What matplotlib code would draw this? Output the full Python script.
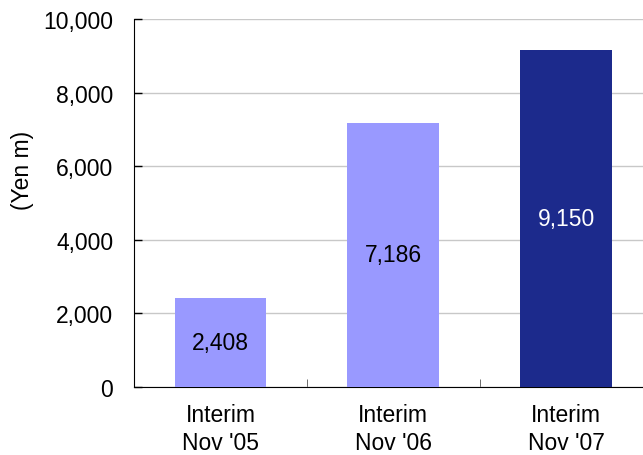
import matplotlib
matplotlib.use("Agg")
import matplotlib.pyplot as plt
from matplotlib.ticker import FuncFormatter, FixedLocator

categories = ["Interim\nNov '05", "Interim\nNov '06", "Interim\nNov '07"]
values = [2408, 7186, 9150]
bar_colors = ["#9999FF", "#9999FF", "#1C2A8C"]
label_colors = ["black", "black", "white"]

plt.rcParams['font.family'] = ['Liberation Sans', 'DejaVu Sans']
FS = 16.5

fig = plt.figure(figsize=(6.43, 4.56), dpi=100)
ax = fig.add_axes([134/643, 1-388/456, 518.5/643, 368/456])

x = list(range(len(values)))
bars = ax.bar(x, values, width=0.53, color=bar_colors, zorder=3)
for xi, v, c in zip(x, values, label_colors):
    ax.text(xi, v/2, f"{v:,}", ha='center', va='center', fontsize=FS, color=c, zorder=4)

ax.set_xlim(-0.5, 2.5)
ax.set_ylim(0, 10000)
ax.set_yticks(range(0, 10001, 2000))
ax.yaxis.set_major_formatter(FuncFormatter(lambda v, p: f"{int(v):,}"))
ax.yaxis.grid(True, color='#C8C8C8', linewidth=1, zorder=0)
ax.tick_params(axis='y', direction='in', length=6, labelsize=FS, pad=15, width=1)

ax.set_xticks(x)
ax.set_xticklabels(categories, fontsize=FS, linespacing=1.28)
ax.tick_params(axis='x', which='major', length=0, pad=11.5)
ax.xaxis.set_minor_locator(FixedLocator([0.5, 1.5]))
ax.tick_params(axis='x', which='minor', direction='in', length=6, color='#555555')

for s in ['top', 'right']:
    ax.spines[s].set_visible(False)
ax.spines['left'].set_color('black')
ax.spines['bottom'].set_color('black')

fig.text(22/643, 1-170/456, "(Yen m)", rotation=90, ha='center', va='center', fontsize=FS)

fig.savefig("out.png", dpi=100)
